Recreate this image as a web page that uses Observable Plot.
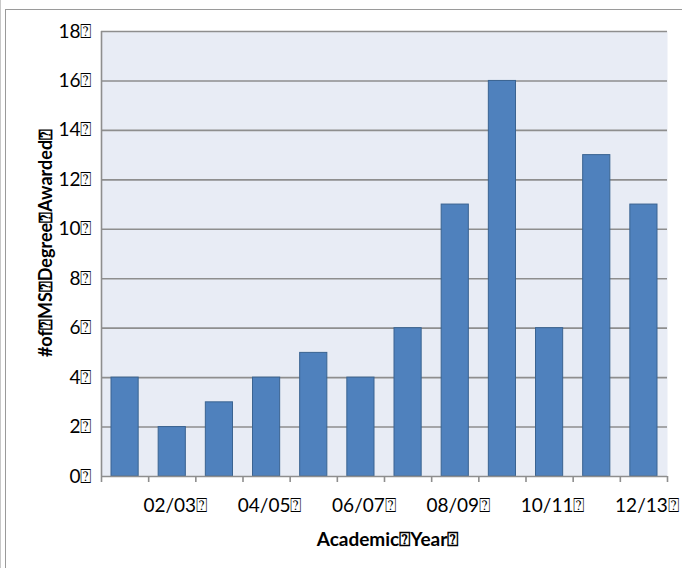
<!DOCTYPE html>
<html>
<head>
<meta charset="utf-8">
<script src="https://cdn.jsdelivr.net/npm/d3@7"></script>
<script src="https://cdn.jsdelivr.net/npm/@observablehq/plot@0.6"></script>
<style>
  html, body { margin: 0; padding: 0; background: #fff; }
  #wrap { position: relative; width: 682px; height: 568px; overflow: hidden; }
  #edge { position: absolute; left: 0; top: 0; width: 0; height: 568px; border-left: 1px solid #c8c8c8; }
  #frame { position: absolute; left: 5px; top: 9px; width: 700px; height: 600px; border-left: 1.5px solid #9a9a9a; border-top: 1.5px solid #9a9a9a; }
  #chart { position: absolute; left: 0; top: 0; }
</style>
</head>
<body>
<div id="wrap"><div id="edge"></div><div id="frame"></div><div id="chart"></div></div>
<script>
const years = ["01/02","02/03","03/04","04/05","05/06","06/07","07/08","08/09","09/10","10/11","11/12","12/13"];
const degrees = [4, 2, 3, 4, 5, 4, 6, 11, 16, 6, 13, 11];
const yTicks = [0, 2, 4, 6, 8, 10, 12, 14, 16, 18];
const labelYears = ["02/03","04/05","06/07","08/09","10/11","12/13"];
const box = "\u2370";

const data = years.map((y, i) => ({year: y, i, value: degrees[i]}));
const labelPos = labelYears.map(y => years.indexOf(y) + 0.5);

const chart = Plot.plot({
  width: 682,
  height: 568,
  marginLeft: 101,
  marginRight: 15,
  marginTop: 31,
  marginBottom: 92,
  style: {fontFamily: "Lato, 'Open Sans', sans-serif", background: "transparent", overflow: "visible"},
  x: {type: "linear", domain: [0, years.length], axis: null, label: null},
  y: {domain: [0, 18], axis: null, label: null},
  marks: [
    Plot.frame({fill: "#e8ecf5", stroke: null}),
    Plot.ruleY(yTicks.filter(d => d > 0), {stroke: "#8e8e8e", strokeWidth: 1.6}),
    Plot.rectY(data, {x1: "i", x2: d => d.i + 1, y: "value", insetLeft: 10, insetRight: 10, fill: "#4f81bd", stroke: "#3a6391", strokeWidth: 1}),
    Plot.ruleX([0], {stroke: "#8e8e8e", strokeWidth: 1.6}),
    Plot.ruleY([0], {stroke: "#8e8e8e", strokeWidth: 1.6}),
    Plot.axisX({ticks: d3.range(0, years.length + 1), tickSize: 6, tickFormat: () => "", stroke: "#8e8e8e", strokeWidth: 1.6, label: null}),
    Plot.axisX({ticks: labelPos, tickSize: 0, tickPadding: 22, dx: 3, tickFormat: v => years[Math.floor(v)] + box, fontSize: 19, fill: "#000", label: null}),
    Plot.axisY({ticks: yTicks, tickSize: 0, tickPadding: 10, tickFormat: v => v + box, fontSize: 19, fill: "#000", label: null}),
    Plot.text(["Academic" + box + "Year" + box], {frameAnchor: "bottom", dy: 69, dx: 3, fontSize: 19, fontWeight: "bold", fill: "#000"}),
    Plot.text(["#of" + box + "MS" + box + "Degree" + box + "Awarded" + box], {frameAnchor: "left", textAnchor: "middle", rotate: -90, dx: -55, dy: -11, fontSize: 18, fontWeight: "bold", fill: "#000"})
  ]
});
document.getElementById("chart").appendChild(chart);
</script>
</body>
</html>
